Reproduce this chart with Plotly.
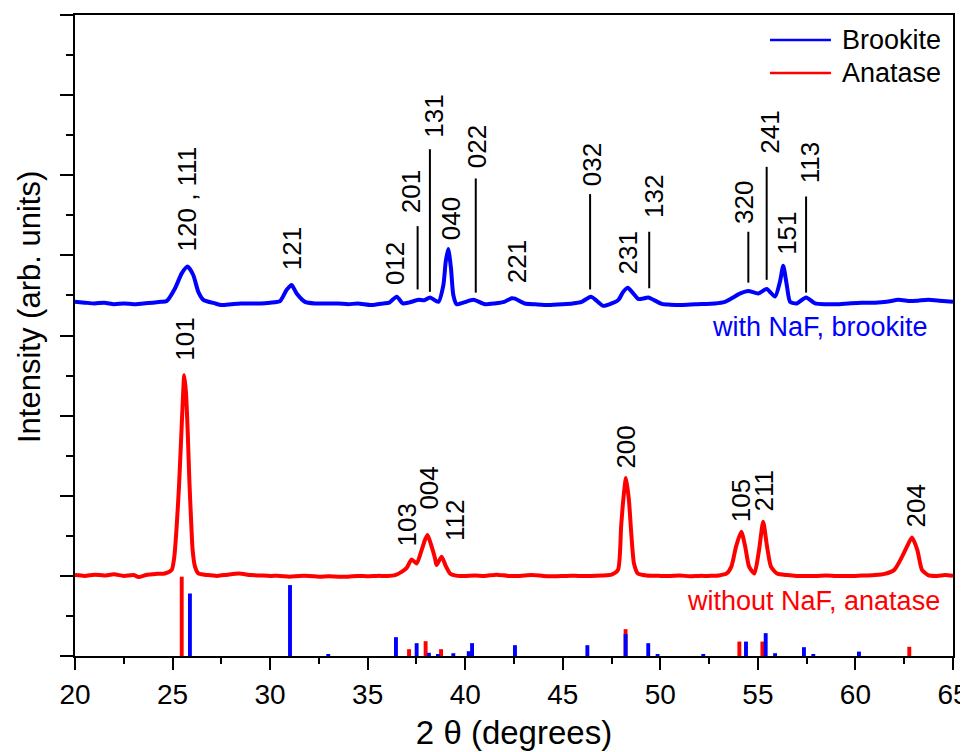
import plotly.graph_objects as go

# ---------------- data ----------------
# Blue pattern: with NaF (brookite); x = 2theta (deg), y = intensity (arb. units, offset)
blue_x = [20.0, 20.5, 21.0, 21.5, 22.0, 22.5, 23.0, 23.5, 24.0, 24.4, 24.7, 25.13, 25.47, 25.77,
          26.06, 26.32, 26.58, 27.18, 27.5, 28.0, 28.5, 29.0, 29.5, 30.0, 30.51, 30.85, 31.1,
          31.36, 31.79, 32.3, 33.0, 33.5, 34.0, 34.5, 35.2, 35.8, 36.1, 36.49, 36.8, 37.1, 37.6,
          37.9, 38.2, 38.62, 38.88, 39.0, 39.13, 39.27, 39.39, 39.56, 39.9, 40.42, 41.01, 41.5,
          42.0, 42.38, 42.55, 43.06, 43.6, 44.26, 45.0, 45.5, 45.97, 46.45, 47.08, 47.5, 47.85,
          48.1, 48.33, 48.61, 48.87, 49.1, 49.38, 50.07, 50.5, 51.09, 51.8, 52.8, 53.3, 53.66,
          54.1, 54.51, 55.02, 55.45, 55.88, 56.13, 56.3, 56.48, 56.65, 56.99, 57.47, 57.93, 58.5,
          59.0, 59.63, 60.3, 61.0, 61.6, 62.2, 62.8, 63.2, 63.73, 64.3, 65.0]
blue_y = [8.84, 8.82, 8.80, 8.82, 8.78, 8.80, 8.78, 8.80, 8.82, 8.84, 8.86, 9.18, 9.55, 9.72,
          9.51, 9.09, 8.89, 8.80, 8.76, 8.78, 8.80, 8.80, 8.80, 8.82, 8.86, 9.14, 9.26,
          9.05, 8.84, 8.80, 8.80, 8.80, 8.78, 8.80, 8.76, 8.80, 8.82, 8.97, 8.80, 8.82, 8.89,
          8.88, 8.95, 8.84, 9.26, 9.84, 10.16, 9.68, 9.01, 8.78, 8.82, 8.89, 8.78, 8.80,
          8.84, 8.93, 8.92, 8.80, 8.78, 8.76, 8.78, 8.80, 8.84, 8.97, 8.74, 8.80, 8.89,
          9.09, 9.19, 9.05, 8.91, 8.92, 8.95, 8.79, 8.77, 8.76, 8.78, 8.80, 8.84, 8.93,
          9.05, 9.11, 9.05, 9.16, 8.97, 9.34, 9.74, 9.26, 8.84, 8.80, 8.95, 8.80, 8.78,
          8.78, 8.80, 8.82, 8.82, 8.84, 8.89, 8.86, 8.87, 8.89, 8.87, 8.84]

# Red pattern: without NaF (anatase)
red_x = [20.0, 20.5, 21.0, 21.5, 22.0, 22.5, 23.0, 23.3, 23.7, 24.2, 24.6, 24.955, 25.09, 25.21,
         25.33, 25.43, 25.52, 25.6, 25.69, 25.78, 25.86, 25.95, 26.03, 26.15, 26.32, 26.8, 27.3,
         27.8, 28.4, 29.0, 29.5, 30.0, 30.5, 31.0, 31.5, 32.0, 32.5, 33.0, 33.5, 34.0, 34.5,
         35.0, 35.5, 36.0, 36.4, 36.74, 37.0, 37.25, 37.51, 37.77, 37.94, 38.07, 38.28, 38.45,
         38.53, 38.79, 39.0, 39.22, 39.6, 40.0, 40.5, 41.0, 41.6, 42.2, 42.8, 43.4, 44.0, 44.6,
         45.2, 45.8, 46.4, 47.0, 47.5, 47.83, 47.99, 48.1, 48.24, 48.39, 48.51, 48.65, 48.85,
         49.3, 50.0, 50.5, 51.0, 51.5, 52.0, 52.5, 53.0, 53.4, 53.64, 53.88, 54.15, 54.35,
         54.55, 54.82, 55.06, 55.27, 55.47, 55.67, 55.98, 56.5, 57.0, 57.5, 58.0, 58.5, 59.0,
         59.5, 60.0, 60.5, 61.0, 61.5, 61.99, 62.39, 62.64, 62.9, 63.17, 63.41, 63.72, 64.2,
         64.6, 65.0]
red_y = [2.02, 2.00, 2.03, 2.01, 2.04, 2.00, 2.02, 1.97, 2.03, 2.05, 2.06, 2.15, 2.48, 3.23,
         4.23, 5.31, 6.31, 7.01, 6.56, 5.56, 4.39, 3.39, 2.64, 2.23, 2.06, 2.02, 2.00,
         2.03, 2.06, 2.02, 2.01, 2.00, 2.00, 1.98, 2.00, 2.00, 1.98, 1.99, 1.98, 1.98, 2.00,
         1.99, 2.00, 2.00, 2.02, 2.10, 2.20, 2.41, 2.31, 2.65, 2.90, 3.02, 2.73, 2.44,
         2.27, 2.48, 2.25, 2.06, 2.00, 2.00, 2.01, 2.00, 2.03, 2.00, 2.00, 2.02, 2.00, 1.99,
         2.00, 2.00, 2.00, 2.01, 2.03, 2.15, 3.23, 3.89, 4.44, 3.89, 3.06, 2.31, 2.06,
         2.01, 2.00, 2.00, 2.01, 1.99, 2.00, 2.00, 2.01, 2.06, 2.23, 2.73, 3.10, 2.73,
         2.23, 2.06, 2.65, 3.35, 2.73, 2.23, 2.06, 2.02, 2.00, 2.00, 2.00, 2.01, 2.00,
         2.00, 2.00, 2.01, 2.02, 2.05, 2.15, 2.48, 2.73, 2.96, 2.65, 2.15, 2.02, 2.00,
         2.02, 2.00]

# Reference stick patterns
anatase_pos = [25.47, 37.12, 37.97, 38.76, 48.22, 54.05, 55.23, 62.76]
anatase_int = [1.98, 0.17, 0.37, 0.17, 0.67, 0.36, 0.36, 0.23]
brookite_pos = [25.89, 31.02, 32.98, 36.45, 37.51, 38.14, 38.6, 39.39, 40.18, 40.35, 42.55,
                46.26, 48.22, 49.38, 49.86, 52.2, 54.39, 55.4, 55.88, 57.36, 57.84, 60.18]
brookite_int = [1.56, 1.77, 0.05, 0.47, 0.32, 0.08, 0.05, 0.07, 0.12, 0.32, 0.27,
                0.27, 0.55, 0.32, 0.03, 0.03, 0.36, 0.57, 0.07, 0.22, 0.03, 0.11]

# Peak labels: brookite (blue curve)
b_lab = ["120 , 111", "121", "012", "201", "131", "040", "022", "221", "032", "231", "132",
         "320", "241", "151", "113"]
b_lab_x = [25.74, 31.12, 36.40, 37.26, 38.36, 39.27, 40.59, 42.64, 46.48, 48.36, 49.64,
           54.25, 55.58, 56.48, 57.67]
b_lab_y = [10.06, 9.59, 9.22, 11.01, 12.88, 10.34, 12.13, 9.26, 11.68, 9.47, 10.88,
           10.73, 12.48, 9.97, 11.76]
# leader lines (x, from, to)
lead_x = [37.56, 38.19, 40.54, 46.40, 49.43, 54.51, 55.45, 57.47]
lead_y0 = [9.15, 9.09, 9.07, 9.15, 9.18, 9.32, 9.39, 9.07]
lead_y1 = [10.73, 12.65, 11.92, 11.53, 10.59, 10.59, 12.21, 11.47]

# Peak labels: anatase (red curve)
a_lab = ["101", "103", "004", "112", "200", "105", "211", "204"]
a_lab_x = [25.64, 37.00, 38.16, 39.48, 48.24, 54.13, 55.36, 63.10]
a_lab_y = [7.31, 2.69, 3.60, 2.81, 4.64, 3.30, 3.57, 3.17]

# Legend entries
legend_names = ["Brookite", "Anatase"]

BLUE = "#0000ff"
RED = "#ff0000"
FONT = "Liberation Sans, Arial, sans-serif"
legend_colors = [BLUE, RED]

fig = go.Figure()

fig.add_trace(go.Bar(x=anatase_pos, y=anatase_int, width=0.2, marker=dict(color=RED, line_width=0),
                     showlegend=False, hoverinfo="x"))
fig.add_trace(go.Bar(x=brookite_pos, y=brookite_int, width=0.2, marker=dict(color=BLUE, line_width=0),
                     showlegend=False, hoverinfo="x"))

fig.add_trace(go.Scatter(x=blue_x, y=blue_y, mode="lines",
                         line=dict(color=BLUE, width=4, shape="spline", smoothing=0.6),
                         showlegend=False, name="with NaF, brookite"))
fig.add_trace(go.Scatter(x=red_x, y=red_y, mode="lines",
                         line=dict(color=RED, width=4, shape="spline", smoothing=0.6),
                         showlegend=False, name="without NaF, anatase"))

annotations = []
for t, x, y in zip(b_lab, b_lab_x, b_lab_y):
    annotations.append(dict(x=x, y=y, xref="x", yref="y", text=t, textangle=-90, showarrow=False,
                            xanchor="center", yanchor="bottom", font=dict(size=26, color="black", family=FONT)))
for t, x, y in zip(a_lab, a_lab_x, a_lab_y):
    annotations.append(dict(x=x, y=y, xref="x", yref="y", text=t, textangle=-90, showarrow=False,
                            xanchor="center", yanchor="bottom", font=dict(size=26, color="black", family=FONT)))

annotations.append(dict(x=63.82, y=8.21, xref="x", yref="y", text="with NaF, brookite", showarrow=False,
                        xanchor="right", yanchor="middle", font=dict(size=27, color=BLUE, family=FONT)))
annotations.append(dict(x=64.44, y=1.37, xref="x", yref="y", text="without NaF, anatase", showarrow=False,
                        xanchor="right", yanchor="middle", font=dict(size=27, color=RED, family=FONT)))
annotations.append(dict(x=-0.052, y=0.545, xref="paper", yref="paper", text="Intensity (arb. units)",
                        textangle=-90, showarrow=False, xanchor="center", yanchor="middle",
                        font=dict(size=31, color="black", family=FONT)))

shapes = []
for x, y0, y1 in zip(lead_x, lead_y0, lead_y1):
    shapes.append(dict(type="line", xref="x", yref="y", x0=x, x1=x, y0=y0, y1=y1,
                       line=dict(color="black", width=2)))

# manual legend (top right)
for i, (name, col) in enumerate(zip(legend_names, legend_colors)):
    yy = 0.961 - i * 0.0515
    shapes.append(dict(type="line", xref="paper", yref="paper", x0=0.7916, x1=0.861, y0=yy, y1=yy,
                       line=dict(color=col, width=2.5)))
    annotations.append(dict(x=0.8713, y=yy, xref="paper", yref="paper", text=name, showarrow=False,
                            xanchor="left", yanchor="middle", font=dict(size=27, color="black", family=FONT)))

# The page body has an 8px default margin, so the figure is 8px smaller and the
# margins are reduced by 8px on the left/top to keep the plot area in place.
fig.update_layout(
    width=960, height=744,
    margin=dict(l=67, r=15, t=7, b=96, autoexpand=False),
    paper_bgcolor="white", plot_bgcolor="white",
    barmode="overlay",
    showlegend=False,
    font=dict(family=FONT, color="black", size=27),
    annotations=annotations,
    shapes=shapes,
    xaxis=dict(range=[20, 65], tick0=20, dtick=5, ticks="outside", ticklen=12, tickwidth=2,
               tickcolor="black", showline=True, linecolor="black", linewidth=2, mirror=True,
               showgrid=False, zeroline=False, automargin=False, ticklabeloverflow="allow",
               minor=dict(dtick=2.5, ticks="outside", ticklen=6, tickwidth=2, tickcolor="black", showgrid=False),
               tickfont=dict(size=28, family=FONT),
               title=dict(text="2 θ (degrees)", font=dict(size=33, family=FONT), standoff=12)),
    yaxis=dict(range=[0, 16], tick0=0, dtick=2, ticks="outside", ticklen=13, tickwidth=2,
               tickcolor="black", showline=True, linecolor="black", linewidth=2, mirror=True,
               showgrid=False, zeroline=False, showticklabels=False, automargin=False,
               minor=dict(dtick=1, ticks="outside", ticklen=7, tickwidth=2, tickcolor="black", showgrid=False)),
)

fig.write_html("out.html")
